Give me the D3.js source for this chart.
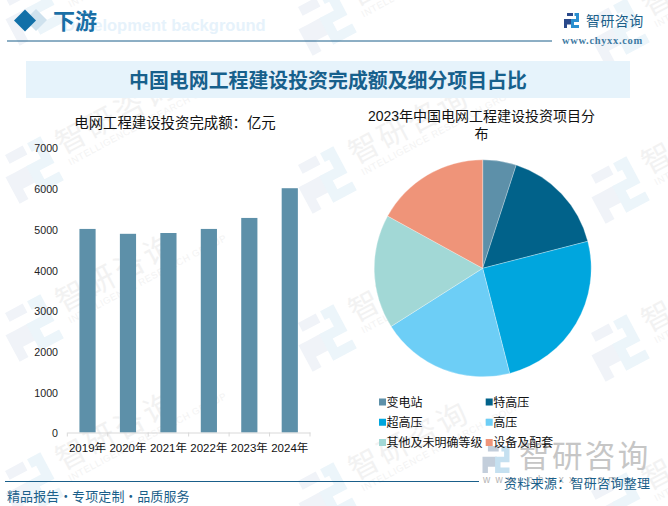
<!DOCTYPE html>
<html>
<head>
<meta charset="utf-8">
<script src="https://cdn.jsdelivr.net/npm/d3@7"></script>
<style>
html,body{margin:0;padding:0;background:#fff;overflow:hidden}
svg{display:block}
text{font-family:"Liberation Sans","Noto Sans CJK SC",sans-serif}
.cjk{font-family:"Noto Sans CJK SC",sans-serif}
</style>
</head>
<body>
<svg id="c" width="668" height="506"></svg>
<script>
const years = ["2019年","2020年","2021年","2022年","2023年","2024年"];
const investment = [5000,4880,4900,5000,5270,6000];
const yTicks = [0,1000,2000,3000,4000,5000,6000,7000];
const parts = ["变电站","特高压","超高压","高压","其他及未明确等级","设备及配套"];
const shares = [5,16,25,20,17,17];
const barColor = "#5d90a9";
const partColors = ["#5d90a9","#01628a","#00a6de","#6dcef6","#a2d8d6","#ef9479"];

const svg = d3.select("#c");

// brand mark, drawn in a 30x30 box centred on the origin
function logo(g, size, dark, light){
  const s = size/30;
  const m = g.append("g").attr("transform",`scale(${s})`);
  m.append("path").attr("fill",dark).attr("d",
    "M-15-15H3V-9H-9V-3H1V8H-9V15H-15V2H-5V3H-5V2H-5V3H-15Z M-15-15V-3H-9V-15Z M-15 8H-9V15H-15Z");
  m.append("path").attr("fill",light).attr("d",
    "M6-15H15V3H5V9H15V15H-1V-3H9V-9H6Z");
}

// watermark layer
const wm = svg.append("g");
for(let i=0;i<3;i++){
  for(let j=-1;j<4;j++){
    const t = wm.append("g").attr("transform",`translate(${30+293*i},${12+158*j+10*i}) rotate(-28)`);
    logo(t,50,"#f0f3f8","#ecf5fa");
    t.append("text").attr("class","cjk").attr("x",36).attr("y",2).attr("font-size",30)
      .attr("letter-spacing",3).attr("fill","#f2f2f2").text("智研咨询");
    t.append("text").attr("x",38).attr("y",15).attr("font-size",9.5)
      .attr("letter-spacing",0.6).attr("fill","#f3f3f3").text("INTELLIGENCE RESEARCH GROUP");
  }
}

// header
svg.append("path").attr("d","M36 9L47 20L36 31L25 20Z").attr("fill","#cfe2ee");
svg.append("path").attr("d","M25 9.5L36 20.5L25 31.5L14 20.5Z").attr("fill","#1270a8");
svg.append("text").attr("x",63).attr("y",31).attr("font-size",16.5).attr("font-weight","bold")
  .attr("fill","#e6f2fb").text("Development background");
svg.append("text").attr("class","cjk").attr("x",53).attr("y",29).attr("font-size",22).attr("font-weight","bold")
  .attr("fill","#1a6fa6").text("下游");
svg.append("line").attr("x1",7).attr("x2",552).attr("y1",41).attr("y2",41).attr("stroke","#1a5f8a").attr("stroke-width",1);

// top right brand
const tl = svg.append("g").attr("transform","translate(571.5,20.5)");
logo(tl,15,"#2b4a8b","#2a8fd0");
svg.append("text").attr("class","cjk").attr("x",586).attr("y",25.5).attr("font-size",14).attr("letter-spacing",0.4)
  .attr("fill","#1a5f8a").text("智研咨询");
svg.append("text").attr("x",562).attr("y",44).attr("font-size",10.5).attr("font-weight","bold")
  .style("font-family","'Liberation Serif',serif").attr("letter-spacing",0.65)
  .attr("fill","#3f7ba3").text("www.chyxx.com");

// title band
svg.append("rect").attr("x",26).attr("y",61).attr("width",604).attr("height",37).attr("fill","#e6f3fb");
svg.append("text").attr("class","cjk").attr("x",328).attr("y",88).attr("text-anchor","middle")
  .attr("font-size",19.9).attr("font-weight","bold").attr("fill","#17608c")
  .text("中国电网工程建设投资完成额及细分项目占比");

// bar chart
svg.append("text").attr("x",175).attr("y",128).attr("text-anchor","middle").attr("font-size",14.4)
  .attr("fill","#111").text("电网工程建设投资完成额：亿元");
const x = d3.scaleBand().domain(years).range([67.3,310]);
const y = d3.scaleLinear().domain([0,7000]).range([432.5,147.5]);
const barW = x.bandwidth()*0.4;
svg.append("g").selectAll("rect").data(investment).join("rect")
  .attr("x",(d,i)=>x(years[i])+x.bandwidth()/2-barW/2)
  .attr("width",barW)
  .attr("y",d=>y(d))
  .attr("height",d=>y(0)-y(d))
  .attr("fill",barColor);

const xAxis = svg.append("g").attr("transform",`translate(0,${y(0)})`)
  .call(d3.axisBottom(x).tickSize(0).tickPadding(11));
xAxis.select(".domain").attr("stroke","#d9d9d9");
xAxis.selectAll("text").attr("font-size",11.5).attr("fill","#111").style("font-family",null);
xAxis.append("g").selectAll("line").data(years.concat(["end"])).join("line")
  .attr("x1",(d,i)=>x.range()[0]+i*x.step()).attr("x2",(d,i)=>x.range()[0]+i*x.step())
  .attr("y1",0).attr("y2",4).attr("stroke","#d9d9d9");

const yAxis = svg.append("g").attr("transform","translate(67,1)")
  .call(d3.axisLeft(y).tickValues(yTicks).tickFormat(d3.format("d")).tickSize(0).tickPadding(9));
yAxis.select(".domain").remove();
yAxis.selectAll("text").attr("font-size",10.67).attr("fill","#222").style("font-family",null);

// pie
svg.append("text").attr("x",481.5).attr("y",120.5).attr("text-anchor","middle").attr("font-size",14)
  .attr("fill","#111").text("2023年中国电网工程建设投资项目分");
svg.append("text").attr("x",481.5).attr("y",139).attr("text-anchor","middle").attr("font-size",14)
  .attr("fill","#111").text("布");
const arc = d3.arc().innerRadius(0).outerRadius(108.5);
const pie = d3.pie().sort(null).value(d=>d);
svg.append("g").attr("transform","translate(482.7,268.3)")
  .selectAll("path").data(pie(shares)).join("path")
  .attr("d",arc).attr("fill",(d,i)=>partColors[i]).attr("stroke","#fff").attr("stroke-width",0.3);

// centre-bottom grey brand sits beneath the legend text
const bl = svg.append("g").attr("transform","translate(496,459.5)");
logo(bl,27,"#c3cedb","#c5e0f0");
svg.append("text").attr("class","cjk").attr("x",519).attr("y",467).attr("font-size",30.5).attr("letter-spacing",2.4)
  .attr("fill","#c6c6c6").text("智研咨询");
svg.append("text").attr("x",483).attr("y",483).attr("font-size",10).attr("letter-spacing",5.2)
  .attr("fill","#b5b5b5").text("www.chyxx.com");

// legend
const legX = d3.scalePoint().domain([0,1]).range([379,485.7]);
const legY = d3.scalePoint().domain([0,1,2]).range([402,442.5]);
const leg = svg.append("g").selectAll("g").data(parts).join("g")
  .attr("transform",(d,i)=>`translate(${legX(i%2)},${legY(Math.floor(i/2))})`);
leg.append("rect").attr("x",0).attr("y",-3.5).attr("width",7).attr("height",7).attr("fill",(d,i)=>partColors[i]);
leg.append("text").attr("class","cjk").attr("x",7.5).attr("y",4.5).attr("font-size",12).attr("fill","#111").text(d=>d);

// footer
svg.append("line").attr("x1",5).attr("x2",479).attr("y1",481.5).attr("y2",481.5).attr("stroke","#1a5f8a").attr("stroke-width",1);
svg.append("text").attr("class","cjk").attr("x",7).attr("y",501).attr("font-size",13).attr("letter-spacing",0.1)
  .attr("word-spacing",-3.2).attr("fill","#1a5f8a").text("精品报告 · 专项定制 · 品质服务");
svg.append("text").attr("class","cjk").attr("x",504).attr("y",488).attr("font-size",13).attr("letter-spacing",0.3)
  .attr("fill","#1a5f8a").text("资料来源：智研咨询整理");
</script>
</body>
</html>
